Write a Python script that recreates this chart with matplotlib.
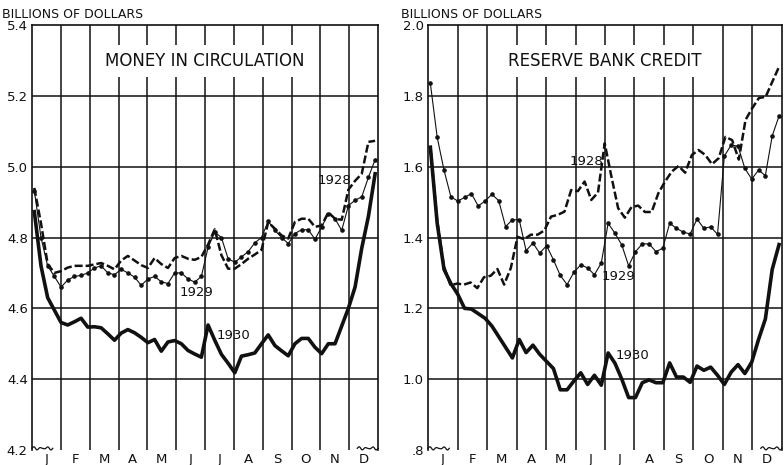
import numpy as np
import matplotlib
matplotlib.use("Agg")
import matplotlib.pyplot as plt

# ---------------- data (weekly values, billions of dollars) ----------------
months = ["J", "F", "M", "A", "M", "J", "J", "A", "S", "O", "N", "D"]

money_1928 = [4.94, 4.84, 4.725, 4.70, 4.705, 4.715, 4.72, 4.72, 4.72, 4.724,
              4.728, 4.72, 4.71, 4.735, 4.748, 4.735, 4.722, 4.714, 4.742, 4.725,
              4.714, 4.742, 4.748, 4.74, 4.737, 4.745, 4.78, 4.823, 4.75, 4.712,
              4.712, 4.725, 4.74, 4.752, 4.765, 4.843, 4.825, 4.806, 4.797, 4.844,
              4.853, 4.853, 4.83, 4.834, 4.871, 4.853, 4.85, 4.935, 4.96, 4.98,
              5.07, 5.073]
money_1929 = [4.932, 4.80, 4.72, 4.69, 4.66, 4.68, 4.69, 4.693, 4.70, 4.714,
              4.72, 4.70, 4.695, 4.71, 4.70, 4.688, 4.665, 4.683, 4.69, 4.675,
              4.67, 4.70, 4.70, 4.683, 4.674, 4.69, 4.772, 4.815, 4.80, 4.74,
              4.73, 4.745, 4.76, 4.785, 4.80, 4.846, 4.82, 4.80, 4.783, 4.811,
              4.822, 4.822, 4.795, 4.83, 4.867, 4.853, 4.82, 4.89, 4.905, 4.915,
              4.97, 5.02]
money_1930 = [4.873, 4.72, 4.63, 4.595, 4.56, 4.553, 4.562, 4.572, 4.547, 4.548,
              4.545, 4.528, 4.51, 4.53, 4.54, 4.531, 4.518, 4.503, 4.512, 4.479,
              4.505, 4.509, 4.50, 4.481, 4.471, 4.462, 4.553, 4.51, 4.47, 4.445,
              4.418, 4.465, 4.469, 4.474, 4.50, 4.525, 4.495, 4.48, 4.466, 4.50,
              4.515, 4.515, 4.49, 4.472, 4.50, 4.50, 4.55, 4.60, 4.66, 4.77,
              4.86, 4.98]

credit_1928 = [1.655, 1.45, 1.32, 1.265, 1.27, 1.267, 1.273, 1.257, 1.288, 1.292,
               1.311, 1.267, 1.314, 1.402, 1.395, 1.408, 1.408, 1.42, 1.459, 1.464,
               1.473, 1.534, 1.531, 1.558, 1.506, 1.527, 1.666, 1.572, 1.483, 1.456,
               1.486, 1.49, 1.472, 1.472, 1.525, 1.558, 1.586, 1.602, 1.583, 1.633,
               1.647, 1.633, 1.607, 1.624, 1.684, 1.675, 1.62, 1.732, 1.765, 1.794,
               1.797, 1.84, 1.882]
credit_1929 = [1.835, 1.683, 1.59, 1.515, 1.503, 1.513, 1.524, 1.489, 1.503, 1.522,
               1.504, 1.431, 1.45, 1.45, 1.363, 1.384, 1.356, 1.377, 1.337, 1.293,
               1.267, 1.302, 1.323, 1.314, 1.295, 1.328, 1.44, 1.412, 1.379, 1.32,
               1.36, 1.382, 1.382, 1.36, 1.37, 1.44, 1.426, 1.415, 1.41, 1.452,
               1.426, 1.43, 1.409, 1.63, 1.661, 1.658, 1.595, 1.565, 1.59, 1.575,
               1.687, 1.743]
credit_1930 = [1.655, 1.44, 1.31, 1.27, 1.24, 1.20, 1.198, 1.185, 1.172, 1.15,
               1.12, 1.09, 1.06, 1.112, 1.075, 1.096, 1.07, 1.05, 1.03, 0.97,
               0.97, 0.995, 1.018, 0.985, 1.011, 0.983, 1.074, 1.045, 1.00, 0.948,
               0.948, 0.99, 0.998, 0.99, 0.99, 1.046, 1.006, 1.006, 0.991, 1.037,
               1.025, 1.034, 1.011, 0.985, 1.02, 1.041, 1.016, 1.048, 1.112, 1.17,
               1.31, 1.38]

money_ticks = [4.2, 4.4, 4.6, 4.8, 5.0, 5.2, 5.4]
money_tick_labels = ["4.2", "4.4", "4.6", "4.8", "5.0", "5.2", "5.4"]
credit_ticks = [0.8, 1.0, 1.2, 1.4, 1.6, 1.8, 2.0]
credit_tick_labels = [".8", "1.0", "1.2", "1.4", "1.6", "1.8", "2.0"]

# ---------------- drawing ----------------
ink = "#111111"
plt.rcParams["font.family"] = ["DejaVu Sans"]

fig = plt.figure(figsize=(7.84, 4.65), dpi=100)
fig.patch.set_facecolor("white")

W, H = 784.0, 465.0
ax_l = fig.add_axes([32 / W, 15 / H, 346 / W, 425 / H])
ax_r = fig.add_axes([428 / W, 15 / H, 354 / W, 425 / H])


def week_x(series):
    return np.linspace(0.08, 11.9, len(series))


def panel(ax, s28, s29, s30, ticks, tick_labels, title, lab_pos):
    ax.set_xlim(0, 12)
    ax.set_ylim(ticks[0], ticks[-1])
    ax.set_facecolor("white")
    for m in range(1, 12):
        ax.axvline(m, color=ink, lw=1.1, zorder=1)
    for t in ticks[1:-1]:
        ax.axhline(t, color=ink, lw=1.1, zorder=1)
    for side in ["left", "right", "top"]:
        ax.spines[side].set_color(ink)
        ax.spines[side].set_linewidth(1.2)
    ax.spines["bottom"].set_visible(False)

    ax.plot(week_x(s28), s28, color=ink, lw=1.8, ls=(0, (3.2, 1.2)), zorder=3)
    ax.plot(week_x(s29), s29, color=ink, lw=0.8, marker="o", ms=2.3, zorder=3)
    ax.plot(week_x(s30), s30, color=ink, lw=2.6, zorder=4,
            solid_joinstyle="round")

    ax.set_yticks(ticks)
    ax.set_yticklabels(tick_labels, fontsize=9.5)
    ax.set_xticks(np.arange(12) + 0.5)
    ax.set_xticklabels(months, fontsize=9.5)
    ax.tick_params(length=0, pad=2, colors=ink)
    ax.tick_params(axis="y", pad=3)

    ax.text(0.5, 0.915, title, transform=ax.transAxes, ha="center",
            va="center", fontsize=12, color=ink, zorder=5,
            bbox=dict(facecolor="white", edgecolor="none", pad=5))

    for (xm, yv), yr in zip(lab_pos, ["1928", "1929", "1930"]):
        ax.text(xm, yv, yr, ha="center", va="center", fontsize=9.5,
                color=ink, zorder=5)

    # small wavy break marks at the bottom corners
    t = np.linspace(0, 1, 60)
    wav = 0.004 + 0.004 * np.sin(t * 6 * np.pi) * (0.6 + 0.4 * np.sin(t * 9))
    ax.plot(t * 0.06, wav, color=ink, lw=0.9, transform=ax.transAxes,
            clip_on=False)
    ax.plot(0.94 + t * 0.06, wav, color=ink, lw=0.9, transform=ax.transAxes,
            clip_on=False)


panel(ax_l, money_1928, money_1929, money_1930, money_ticks,
      money_tick_labels, "MONEY IN CIRCULATION",
      [(10.5, 4.96), (5.69, 4.645), (6.97, 4.523)])
panel(ax_r, credit_1928, credit_1929, credit_1930, credit_ticks,
      credit_tick_labels, "RESERVE BANK CREDIT",
      [(5.36, 1.616), (6.47, 1.291), (6.92, 1.068)])

fig.text(2 / W, 1 - 14 / H, "BILLIONS OF DOLLARS", ha="left", va="center",
         fontsize=9, color=ink)
fig.text(401 / W, 1 - 14 / H, "BILLIONS OF DOLLARS", ha="left", va="center",
         fontsize=9, color=ink)

fig.savefig("out.png", dpi=100, facecolor="white")
